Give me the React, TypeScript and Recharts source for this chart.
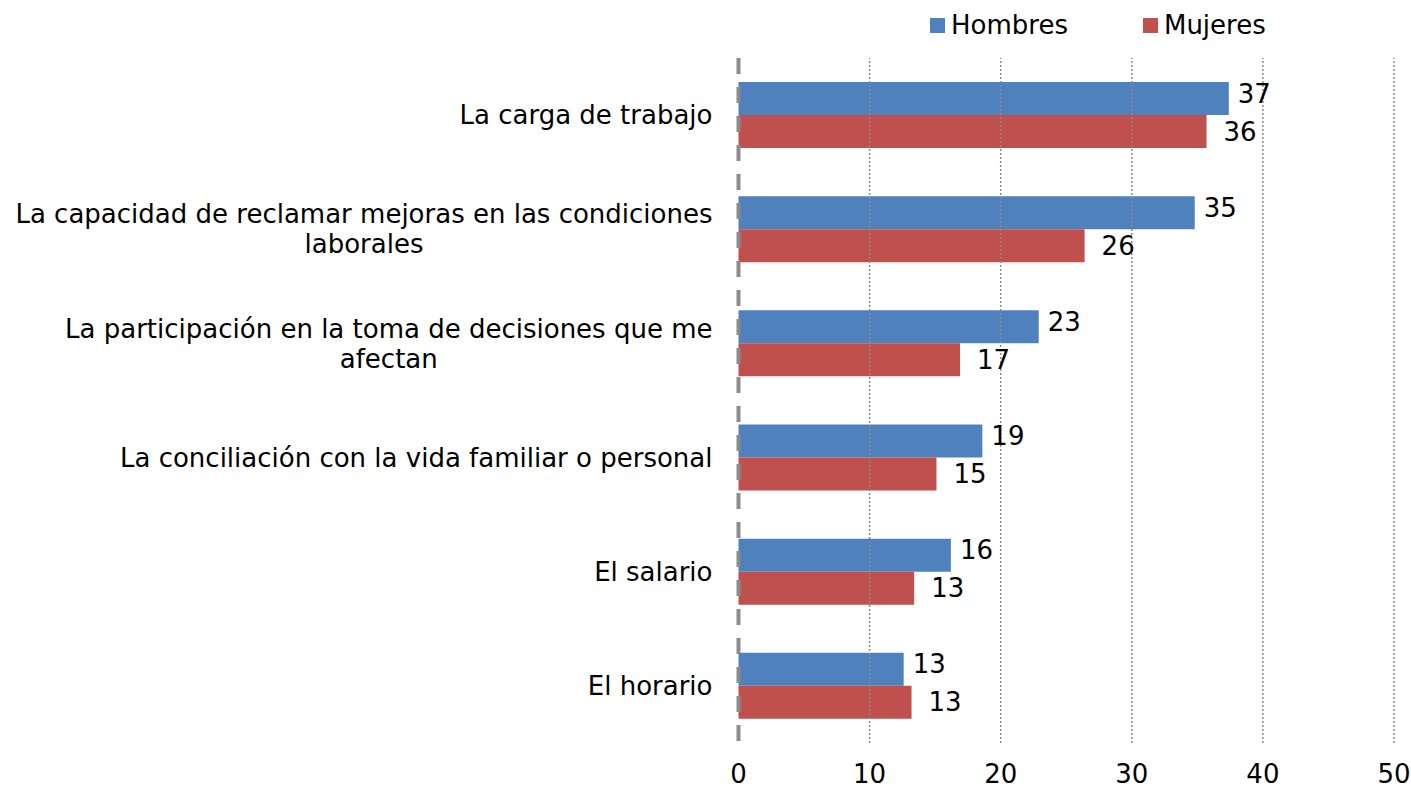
import React from "react";
import {
  BarChart,
  Bar,
  XAxis,
  YAxis,
  Legend,
  LabelList,
  ReferenceLine,
} from "recharts";

const categories = [
  "La carga de trabajo",
  "La capacidad de reclamar mejoras en las condiciones laborales",
  "La participación en la toma de decisiones que me afectan",
  "La conciliación con la vida familiar o personal",
  "El salario",
  "El horario",
];
const hombres = [37.4, 34.8, 22.9, 18.6, 16.2, 12.6];
const mujeres = [35.7, 26.4, 16.9, 15.1, 13.4, 13.2];
const xTicks = [0, 10, 20, 30, 40, 50];

const data = categories.map((name, i) => ({
  name,
  Hombres: hombres[i],
  Mujeres: mujeres[i],
}));

const FONT = "DejaVu Sans";
const FS = 26;
const BLUE = "#4F81BD";
const RED = "#C0504D";

// measure text so long category names wrap like the original
let ctx: CanvasRenderingContext2D | null = null;
function textWidth(s: string) {
  if (!ctx) ctx = document.createElement("canvas").getContext("2d");
  if (!ctx) return s.length * FS * 0.55;
  ctx.font = `${FS}px '${FONT}'`;
  return ctx.measureText(s).width;
}

function wrap(label: string, maxW: number) {
  const words = label.split(" ");
  const lines: string[] = [];
  let cur = "";
  for (const w of words) {
    const next = cur ? cur + " " + w : w;
    if (cur && textWidth(next) > maxW) {
      lines.push(cur);
      cur = w;
    } else {
      cur = next;
    }
  }
  if (cur) lines.push(cur);
  return lines;
}

function CategoryTick(props: any) {
  const { x, y, payload } = props;
  const lines = wrap(payload.value, 705);
  const blockW = Math.max(...lines.map(textWidth));
  const cx = x - blockW / 2;
  const lineH = 30;
  const y0 = y - ((lines.length - 1) * lineH) / 2;
  return (
    <g>
      {lines.map((l, i) => (
        <text
          key={i}
          x={cx}
          y={y0 + i * lineH}
          dy="0.35em"
          textAnchor="middle"
          fontSize={FS}
          fontFamily={FONT}
          fill="#000"
        >
          {l}
        </text>
      ))}
    </g>
  );
}

const valueLabel = (offset: number, shift: number) => (props: any) => {
  const { x, y, width, height, value } = props;
  return (
    <text
      x={x + width + offset}
      y={y + height / 2 + shift}
      dy="0.35em"
      fontSize={FS}
      fontFamily={FONT}
      fill="#000"
    >
      {Math.round(value)}
    </text>
  );
};

function LegendContent(props: any) {
  const { payload } = props;
  return (
    <div style={{ display: "flex", alignItems: "center" }}>
      {payload.map((p: any, i: number) => (
        <div
          key={i}
          style={{
            display: "flex",
            alignItems: "center",
            marginRight: i === 0 ? 75 : 0,
          }}
        >
          <span
            style={{
              display: "inline-block",
              width: 15,
              height: 15,
              background: p.color,
              marginRight: 6,
            }}
          />
          <span style={{ fontSize: FS, fontFamily: FONT, color: "#000", lineHeight: "30px" }}>
            {p.value}
          </span>
        </div>
      ))}
    </div>
  );
}

export default function App() {
  return (
    <div style={{ position: "absolute", top: 0, left: 0, fontFamily: FONT, background: "#fff" }}>
      <BarChart
        width={1411}
        height={789}
        data={data}
        layout="vertical"
        margin={{ top: 58, right: 17, bottom: 0, left: 0 }}
        barGap={0}
      >
        {xTicks.slice(1).map((t) => (
          <ReferenceLine
            key={t}
            x={t}
            stroke="#8a8a8a"
            strokeWidth={1.5}
            strokeDasharray="2 2"
          />
        ))}
        <XAxis
          type="number"
          domain={[0, 50]}
          ticks={xTicks}
          axisLine={false}
          tickLine={false}
          tickSize={0}
          tickMargin={22}
          height={46}
          tick={{ fontSize: FS, fill: "#000", fontFamily: FONT }}
          interval={0}
        />
        <YAxis
          type="category"
          dataKey="name"
          width={738.5}
          tickLine={false}
          tickSize={0}
          tickMargin={26}
          axisLine={{ stroke: "#8c8c8c", strokeWidth: 4, strokeDasharray: "16 13" }}
          tick={<CategoryTick />}
          interval={0}
        />
        <Legend
          layout="horizontal"
          verticalAlign="middle"
          align="center"
          wrapperStyle={{ top: 10, left: 930, width: 400, height: 30 }}
          content={<LegendContent />}
        />
        <Bar dataKey="Hombres" fill={BLUE} barSize={33} isAnimationActive={false}>
          <LabelList dataKey="Hombres" content={valueLabel(9, -5)} />
        </Bar>
        <Bar dataKey="Mujeres" fill={RED} barSize={33} isAnimationActive={false}>
          <LabelList dataKey="Mujeres" content={valueLabel(17, 0)} />
        </Bar>
      </BarChart>
    </div>
  );
}
